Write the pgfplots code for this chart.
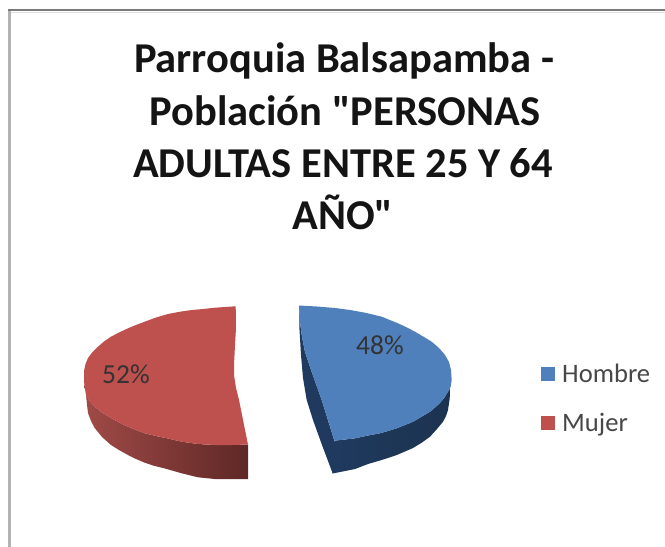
\documentclass[border=0pt]{standalone}
\usepackage{pgfplots}
\pgfplotsset{compat=1.18}
\usepackage{fontspec}
\newfontfamily\cf{Carlito}
\definecolor{pred}{HTML}{BE504D}
\definecolor{pblue}{HTML}{4F80BC}
\definecolor{rwl}{HTML}{A04A47}
\definecolor{rwm}{HTML}{863C3A}
\definecolor{rwr}{HTML}{5E2826}
\definecolor{bwl}{HTML}{1F3A5E}
\definecolor{bwm}{HTML}{27436B}
\definecolor{bwr}{HTML}{1C3350}
\begin{document}
\begin{tikzpicture}
\begin{axis}[
  scale only axis, width=665bp, height=547bp,
  xmin=0, xmax=665, ymin=0, ymax=547, y dir=reverse,
  hide axis, clip=true,
  every axis plot/.append style={line join=round}
]
% background
\addplot[draw=none, fill=white] coordinates {(0,0)(665,0)(665,547)(0,547)} --cycle;
% frame
\addplot[color=black!30, line width=3bp] coordinates {(9.5,547)(9.5,11)};
\addplot[color=black!52, line width=2bp] coordinates {(8,10.5)(665,10.5)};
\addplot[color=black!12, line width=1.5bp] coordinates {(11,12.5)(665,12.5)};
% red wall
\addplot[draw=none, left color=rwl, middle color=rwm, right color=rwr]
 coordinates {(84,380)(84.7,388)(86.3,395)(90,401.5)(94.7,406.7)(102,412.5)(111,418)(119,422.5)(128,426.7)(136,430)(144.7,433.3)(156,436)(168,438.5)(181.7,441.7)(198,444)(215,445)(232,445)(248,444.5)
 (248,479)(232,479.2)(215,479)(198,477.3)(181.7,473.3)(165,468.5)(153,465.5)(144.7,462.7)(136,459)(128,455)(119,450)(111,445)(102,437)(94.7,428)(91,421)(88,413)(87,405)(86,395)} --cycle;
% red top
\addplot[draw=none, fill=pred] coordinates {(235.7,306.3)(225,307)(214,307.8)(203,309)(192,310)(180,311.7)(168,314)(156,317.5)(144.7,321.7)(136,325)(128,328.3)(119,332.5)(111,336.7)(104,341.5)(98,346.7)(92.5,352)(88,358)(85.5,364)(84,371)(84,380)(84.7,388)(86.3,395)(90,401.5)(94.7,406.7)(102,412.5)(111,418)(119,422.5)(128,426.7)(136,430)(144.7,433.3)(156,436)(168,438.5)(181.7,441.7)(198,444)(215,445)(232,445)(248,444.5)
 (243,420)(239,400)(236,388)(234,375)(234,365)(235,345)(236,328)} --cycle;
% blue cut face
\addplot[draw=none, fill=bwl] coordinates {(299,305.5)(299.5,330)(301,355)(303,378)(306.7,400)(313,420)(322,445)(332.7,473.5)(334.3,472)(334.3,440.7)(321.7,400)(311,370)(305,352)(302,337)(300,322)} --cycle;
% blue wall
\addplot[draw=none, left color=bwl, middle color=bwm, right color=bwr]
 coordinates {(334.3,440.7)(345,439.5)(355,438.3)(368,435.5)(380,433.3)(388,431)(396.7,428.3)(405,425)(413,421.7)(422,416.5)(430,411.7)(435,407.5)(440,403)(444.5,397.5)(448,391.7)(450.7,386.7)
 (449.5,400)(448,410)(446,416)(443,421.7)(437,429)(430,436.7)(422,442.5)(413,448)(405,451.5)(396.7,455)(388,458)(380,460.5)(368,464)(355,469)(345,471)(332.7,473.5)} --cycle;
% blue top
\addplot[draw=none, fill=pblue] coordinates {(299,305.5)(317,306.5)(335,308)(350,310)(365,312.7)(381.7,316.7)(398,323.3)(406,327)(415,331.7)(424,337)(431.7,341.7)(439,348)(445,355)(449,362)(451,370)(451.7,380)(450.7,386.7)(448,391.7)(444.5,397.5)(440,403)(435,407.5)(430,411.7)(422,416.5)(413,421.7)(405,425)(396.7,428.3)(388,431)(380,433.3)(368,435.5)(355,438.3)(345,439.5)(334.3,440.7)
 (328,420)(321.7,400)(311,370)(305,352)(302,337)(300,322)} --cycle;
% legend keys
\addplot[draw=none, fill=pblue] coordinates {(541,367)(555,367)(555,381)(541,381)} --cycle;
\addplot[draw=none, fill=pred] coordinates {(541,416)(555,416)(555,430)(541,430)} --cycle;
% text
\node[anchor=base, font=\cf\fontsize{42.5bp}{46bp}\selectfont\bfseries, text=black!92] at (axis cs:344,73) {Parroquia Balsapamba -};
\node[anchor=base, font=\cf\fontsize{42.5bp}{46bp}\selectfont\bfseries, text=black!92] at (axis cs:345,125) {Población "PERSONAS};
\node[anchor=base, font=\cf\fontsize{42.5bp}{46bp}\selectfont\bfseries, text=black!92] at (axis cs:343,177) {ADULTAS ENTRE 25 Y 64};
\node[anchor=base, font=\cf\fontsize{42.5bp}{46bp}\selectfont\bfseries, text=black!92] at (axis cs:343,229) {AÑO"};
\node[anchor=base, font=\cf\fontsize{27.5bp}{30bp}\selectfont, text=black!80] at (axis cs:126,383) {52\%};
\node[anchor=base, font=\cf\fontsize{27.5bp}{30bp}\selectfont, text=black!80] at (axis cs:380,354) {48\%};
\node[anchor=base west, inner xsep=0pt, font=\cf\fontsize{26.6bp}{30bp}\selectfont, text=black!72] at (axis cs:562,382) {Hombre};
\node[anchor=base west, inner xsep=0pt, font=\cf\fontsize{26.6bp}{30bp}\selectfont, text=black!72] at (axis cs:562,431) {Mujer};
\end{axis}
\end{tikzpicture}
\end{document}
